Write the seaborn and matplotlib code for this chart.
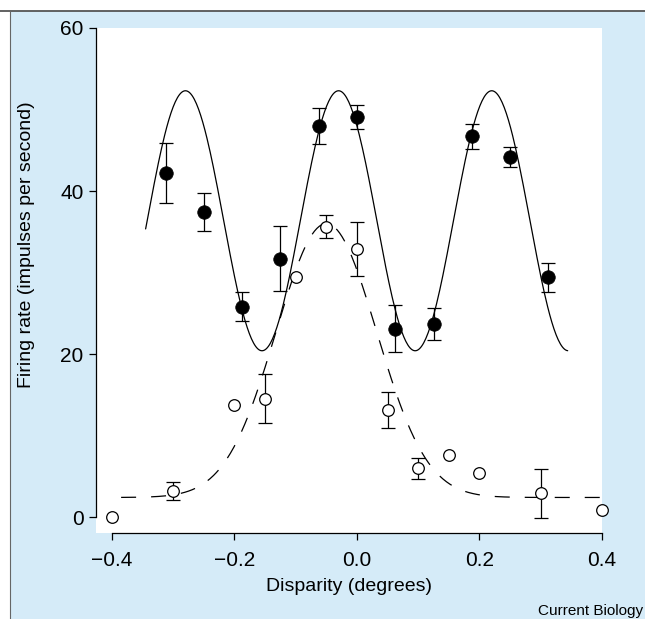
import numpy as np
import pandas as pd
import matplotlib.pyplot as plt
from matplotlib.patches import Rectangle
from matplotlib.lines import Line2D
import seaborn as sns

# Filled circles (with fitted periodic curve)
filled_x = [-0.3125, -0.25, -0.1875, -0.125, -0.0625, 0.0, 0.0625, 0.125, 0.1875, 0.25, 0.3125]
filled_y = [42.2, 37.4, 25.8, 31.7, 48.0, 49.1, 23.1, 23.7, 46.7, 44.2, 29.4]
filled_err = [3.7, 2.3, 1.8, 4.0, 2.2, 1.5, 2.9, 2.0, 1.5, 1.2, 1.8]

# Open circles (with fitted Gaussian curve)
open_x = [-0.4, -0.3, -0.2, -0.15, -0.1, -0.05, 0.0, 0.05, 0.1, 0.15, 0.2, 0.3, 0.4]
open_y = [0.0, 3.2, 13.8, 14.5, 29.5, 35.6, 32.9, 13.1, 6.0, 7.6, 5.4, 2.9, 0.9]
open_err = [0.0, 1.1, 0.0, 3.0, 0.0, 1.4, 3.3, 2.2, 1.3, 0.0, 0.0, 3.0, 0.0]

# Fit curves
solid_range = (-0.345, 0.344)
solid_peak, solid_trough = 52.3, 20.4
solid_period, solid_peak_at = 0.25, -0.03
dashed_range = (-0.385, 0.397)
dashed_base, dashed_peak = 2.4, 36.0
dashed_center, dashed_sd = -0.05, 0.082

x_ticks = [-0.4, -0.2, 0.0, 0.2, 0.4]
y_ticks = [0, 20, 40, 60]

sns.set_theme(style="ticks")
plt.rcParams['font.family'] = ['Liberation Sans', 'DejaVu Sans']
plt.rcParams['axes.unicode_minus'] = True

blue = '#d5ebf8'
fig = plt.figure(figsize=(6.45, 6.19), dpi=100, facecolor='white')

# blue panel with top and left borders
fig.patches.append(Rectangle((9.5 / 645, 0), 1, 1 - 10.5 / 619, transform=fig.transFigure,
                             facecolor=blue, edgecolor='none', zorder=-10))
fig.lines.append(Line2D([0, 1], [1 - 10.5 / 619] * 2, transform=fig.transFigure,
                        color='#555555', lw=1.3, zorder=-9))
fig.lines.append(Line2D([9.5 / 645] * 2, [0, 1 - 10.5 / 619], transform=fig.transFigure,
                        color='#666666', lw=0.8, zorder=-9))

ax = fig.add_axes([96 / 645, 1 - 533 / 619, 506 / 645, 505 / 619])
ax.set_facecolor('white')

# fitted curves
xs = np.linspace(*solid_range, 400)
mid = (solid_peak + solid_trough) / 2
amp = (solid_peak - solid_trough) / 2
solid = pd.DataFrame({'x': xs, 'y': mid + amp * np.cos(2 * np.pi * (xs - solid_peak_at) / solid_period)})
sns.lineplot(data=solid, x='x', y='y', ax=ax, color='black', lw=0.9, zorder=2)

xd = np.linspace(*dashed_range, 400)
dashed = pd.DataFrame({'x': xd, 'y': dashed_base + (dashed_peak - dashed_base)
                       * np.exp(-(xd - dashed_center) ** 2 / (2 * dashed_sd ** 2))})
sns.lineplot(data=dashed, x='x', y='y', ax=ax, color='black', lw=0.9, zorder=2)
ax.lines[-1].set_dashes((12, 12))

# error bars
fdf = pd.DataFrame({'x': filled_x, 'y': filled_y, 'err': filled_err})
odf = pd.DataFrame({'x': open_x, 'y': open_y, 'err': open_err})
for df in (fdf, odf):
    e = df[df['err'] > 0]
    ax.errorbar(e['x'], e['y'], yerr=e['err'], fmt='none', ecolor='black',
                elinewidth=0.9, capsize=4.8, capthick=0.9, zorder=3)

sns.scatterplot(data=fdf, x='x', y='y', ax=ax, marker='o', s=95, color='black',
                edgecolor='black', linewidth=0.5, zorder=4)
sns.scatterplot(data=odf, x='x', y='y', ax=ax, marker='o', s=70, facecolor='white',
                edgecolor='black', linewidth=0.9, zorder=4)
for coll in ax.collections:
    coll.set_clip_on(False)

ax.set_xlim(-0.426, 0.4)
ax.set_ylim(-1.96, 60)
ax.set_xticks(x_ticks)
ax.set_yticks(y_ticks)
ax.set_xticklabels([f'{t:.1f}'.replace('-', '\u2212') for t in x_ticks])
sns.despine(ax=ax)
for s in ('left', 'bottom'):
    ax.spines[s].set_linewidth(0.9)
    ax.spines[s].set_color('black')
ax.spines['left'].set_bounds(0, 60)
ax.spines['bottom'].set_bounds(-0.4, 0.4)
ax.tick_params(direction='out', length=5, width=0.9, color='black',
               labelsize=15, pad=4, labelcolor='black')
ax.tick_params(axis='x', pad=8)

ax.set_xlabel('Disparity (degrees)', fontsize=14, color='black', labelpad=6)
ax.set_ylabel('Firing rate (impulses per second)', fontsize=14, color='black')
ax.yaxis.set_label_coords(-0.12, 0.57)

fig.text(0.997, 1 - 611.5 / 619, 'Current Biology', ha='right', va='center',
         fontsize=11, color='black')

fig.savefig('out.png', dpi=100, facecolor=fig.get_facecolor())
